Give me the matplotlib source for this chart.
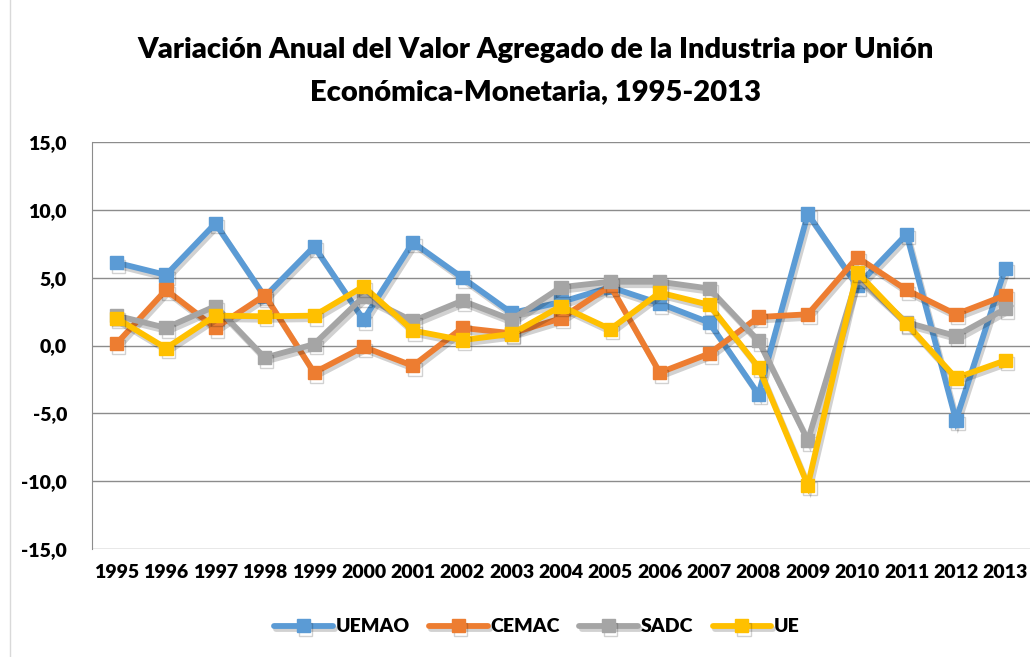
import matplotlib
matplotlib.use("Agg")
import matplotlib.pyplot as plt
import matplotlib.patheffects as pe
import numpy as np

YEARS = [str(y) for y in range(1995, 2014)]
UEMAO = [6.1, 5.2, 9.0, 3.6, 7.3, 1.9, 7.6, 5.0, 2.4, 3.2, 4.3, 3.1, 1.7, -3.6, 9.7, 4.4, 8.2, -5.5, 5.7]
CEMAC = [0.15, 4.1, 1.3, 3.7, -2.0, -0.1, -1.5, 1.3, 0.9, 2.0, 4.4, -2.0, -0.6, 2.1, 2.3, 6.5, 4.1, 2.3, 3.7]
SADC = [2.2, 1.3, 2.9, -0.9, 0.1, 3.6, 1.8, 3.3, 1.9, 4.3, 4.7, 4.7, 4.2, 0.35, -7.0, 5.0, 1.7, 0.7, 2.7]
UE = [2.0, -0.2, 2.2, 2.15, 2.2, 4.35, 1.1, 0.4, 0.85, 2.9, 1.2, 3.9, 3.0, -1.6, -10.3, 5.4, 1.6, -2.4, -1.1]
YTICKS = [-15, -10, -5, 0, 5, 10, 15]

SERIES = [("UEMAO", UEMAO, "#5B9BD5"), ("CEMAC", CEMAC, "#ED7D31"),
          ("SADC", SADC, "#A5A5A5"), ("UE", UE, "#FFC000")]

plt.rcParams["font.family"] = ["Lato", "DejaVu Sans"]
plt.rcParams["font.weight"] = "bold"

fig = plt.figure(figsize=(10.30, 6.57), dpi=100)
ax = fig.add_axes([92 / 1030, 1 - 549 / 657, (1030 - 92) / 1030, (549 - 142) / 657])

x = np.arange(len(YEARS))
shadow = [pe.SimpleLineShadow(offset=(1.5, -2.5), shadow_color="black", alpha=0.18), pe.Normal()]
for name, vals, col in SERIES:
    ax.plot(x, vals, color=col, lw=4.2, marker="s", ms=9.5, mec=col, mfc=col,
            label=name, solid_joinstyle="miter", solid_capstyle="round", path_effects=shadow)

ax.set_xlim(-0.5, len(YEARS) - 0.5)
ax.set_ylim(-15, 15)
ax.set_yticks(YTICKS)
ax.set_yticklabels([f"{v:.1f}".replace(".", ",") for v in YTICKS], fontsize=14, fontweight="heavy")
ax.set_xticks(x)
ax.set_xticklabels(YEARS, fontsize=14, fontweight="heavy")
ax.tick_params(length=0)
ax.tick_params(axis="y", pad=18)
ax.tick_params(axis="x", pad=11)
ax.grid(axis="y", color="#8C8C8C", lw=1.0)
ax.set_axisbelow(True)
for s in ["top", "right", "bottom"]:
    ax.spines[s].set_visible(False)
ax.spines["left"].set_color("#8C8C8C")

fig.text(0.52, 1 - 50 / 657, "Variación Anual del Valor Agregado de la Industria por Unión",
         ha="center", va="center", fontsize=21, fontweight="heavy")
fig.text(0.52, 1 - 92 / 657, "Económica-Monetaria, 1995-2013",
         ha="center", va="center", fontsize=21, fontweight="heavy")

fig.legend(loc="center", bbox_to_anchor=(537 / 1030, 1 - 627 / 657), ncol=4, frameon=False,
           handlelength=3.0, columnspacing=1.0, handletextpad=0.15,
           prop={"weight": "heavy", "size": 14})

fig.add_artist(plt.Line2D([10 / 1030, 10 / 1030], [0, 1], color="#D9D9D9", lw=1))

fig.savefig("out.png", dpi=100)
